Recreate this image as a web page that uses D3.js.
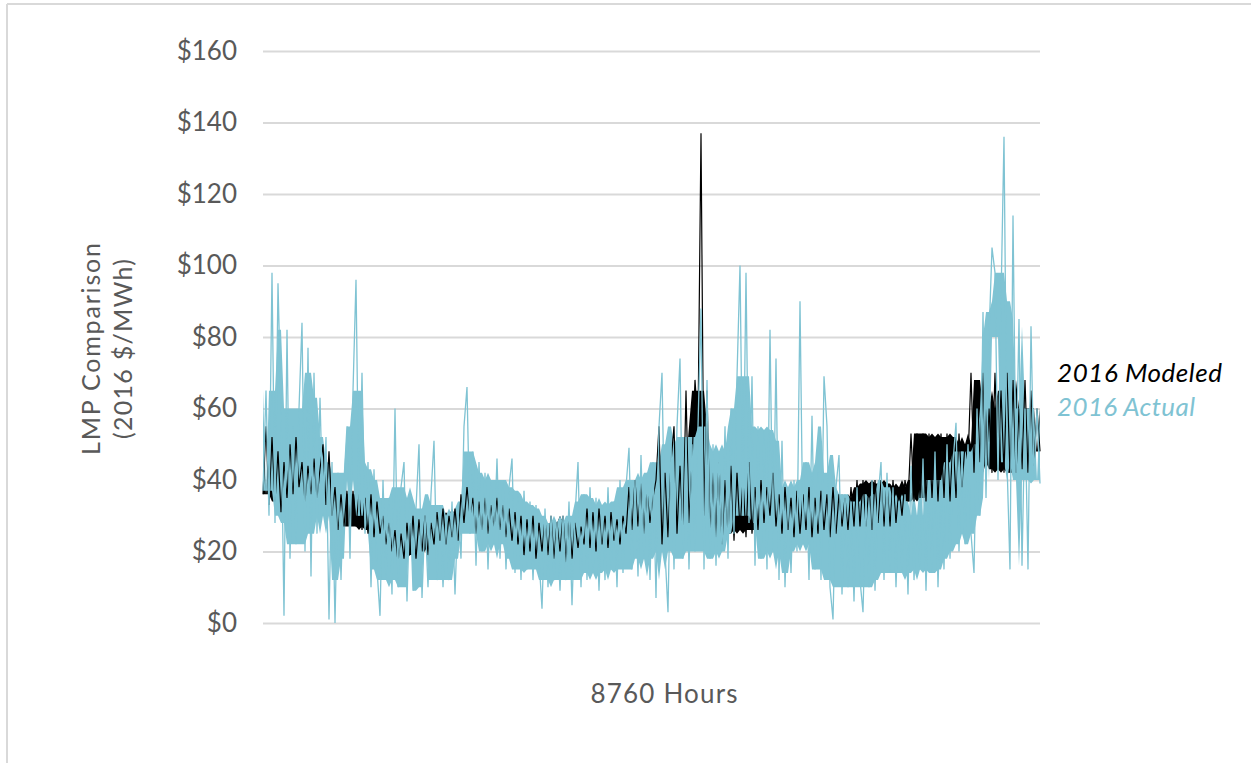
<!DOCTYPE html>
<html>
<head>
<meta charset="utf-8">
<script src="https://cdn.jsdelivr.net/npm/d3@7/dist/d3.min.js"></script>
<style>
  html, body { margin: 0; padding: 0; background: #ffffff; }
  svg { display: block; }
  text { font-family: "Lato", "Open Sans", sans-serif; }
</style>
</head>
<body>
<svg id="chart" width="1251" height="763"></svg>
<script>
const totalHours = 8760;
const yTicks = [0, 20, 40, 60, 80, 100, 120, 140, 160];
const seriesNames = ["2016 Modeled", "2016 Actual"];

// 2016 Actual LMP ($/MWh)
const actual = [
  37, 65, 30, 98, 28, 95, 60, 2, 82, 18,
  55, 22, 60, 84, 20, 77, 13, 70, 25, 63,
  30, 52, 1, 45, 0, 42, 12, 40, 55, 18,
  65, 96, 30, 70, 25, 45, 10, 43, 15, 2,
  40, 12, 35, 8, 60, 10, 38, 45, 6, 35,
  9, 32, 50, 7, 30, 10, 36, 51, 12, 33,
  10, 30, 12, 34, 8, 32, 18, 55, 66, 25,
  48, 16, 45, 20, 42, 15, 40, 22, 46, 18,
  40, 15, 38, 46, 14, 36, 12, 37, 15, 34,
  12, 33, 18, 4, 32, 10, 30, 12, 28, 9,
  30, 12, 34, 5, 30, 45, 10, 36, 12, 38,
  14, 35, 9, 33, 12, 38, 15, 34, 10, 40,
  14, 38, 49, 15, 40, 13, 47, 18, 42, 12,
  45, 7, 55, 70, 20, 3, 50, 15, 55, 74,
  18, 52, 15, 50, 20, 55, 88, 15, 68, 18,
  50, 16, 48, 20, 55, 18, 60, 25, 69, 100,
  30, 98, 28, 69, 16, 55, 18, 54, 15, 82,
  20, 74, 12, 51, 10, 38, 14, 40, 20, 90,
  22, 45, 12, 58, 15, 42, 12, 69, 55, 10,
  1, 38, 47, 8, 36, 10, 34, 6, 38, 12,
  3, 36, 10, 40, 9, 35, 45, 12, 42, 14,
  38, 10, 34, 14, 36, 8, 44, 12, 30, 15,
  46, 9, 40, 14, 48, 10, 40, 15, 50, 18,
  45, 56, 20, 48, 22, 50, 25, 14, 60, 30,
  87, 35, 80, 105, 98, 40, 90, 136, 45, 15,
  114, 40, 85, 16, 60, 15, 83, 40, 60, 39
];

// 2016 Modeled LMP ($/MWh)
const modeled = [
  36, 55, 33, 52, 34, 48, 31, 45, 35, 50,
  36, 52, 38, 45, 34, 44, 36, 46, 35, 43,
  50, 33, 48, 30, 38, 26, 36, 27, 37, 26,
  37, 27, 36, 26, 35, 25, 36, 24, 34, 25,
  30, 22, 28, 20, 26, 17, 25, 18, 28, 19,
  30, 18, 29, 20, 30, 19, 28, 22, 31, 23,
  32, 22, 30, 24, 32, 23, 36, 28, 38, 30,
  35, 25, 34, 26, 35, 25, 33, 27, 35, 26,
  33, 24, 32, 23, 31, 22, 30, 19, 29, 20,
  30, 18, 28, 20, 29, 19, 30, 18, 28, 20,
  30, 17, 30, 18, 28, 21, 27, 22, 32, 21,
  31, 20, 32, 22, 30, 21, 31, 23, 29, 22,
  30, 25, 38, 26, 40, 27, 39, 25, 37, 28,
  35, 40, 55, 22, 42, 24, 45, 55, 25, 44,
  26, 65, 28, 45, 68, 55, 137, 30, 65, 25,
  42, 24, 45, 22, 40, 25, 44, 23, 42, 26,
  40, 24, 45, 25, 38, 26, 40, 28, 38, 30,
  42, 27, 36, 25, 38, 26, 35, 24, 37, 25,
  36, 26, 38, 24, 35, 25, 37, 26, 36, 24,
  38, 25, 36, 27, 35, 26, 38, 27, 40, 27,
  40, 27, 39, 26, 40, 28, 40, 27, 39, 27,
  40, 28, 38, 30, 40, 34, 53, 34, 53, 35,
  53, 34, 53, 35, 52, 34, 53, 35, 53, 34,
  52, 35, 53, 38, 50, 45, 70, 42, 68, 45,
  70, 42, 60, 42, 70, 43, 65, 42, 70, 42,
  68, 42, 60, 43, 68, 42, 65, 44, 60, 48
];

// ---- Layout ----
const svg = d3.select("#chart");
const W = 1251, H = 763;
const plot = { left: 263, right: 1040, top: 51, bottom: 623 };
const blue = "#7fc3d3";
const gridColor = "#d9d9d9";
const textColor = "#595959";

// frame
svg.append("line").attr("x1", 7).attr("x2", W).attr("y1", 4).attr("y2", 4)
  .attr("stroke", gridColor).attr("stroke-width", 2);
svg.append("line").attr("x1", 7).attr("x2", 7).attr("y1", 4).attr("y2", H)
  .attr("stroke", gridColor).attr("stroke-width", 2);

const hourOf = (i, n) => i * totalHours / (n - 1);

const x = d3.scaleLinear().domain([0, totalHours]).range([plot.left, plot.right]);
const y = d3.scaleLinear().domain([0, 160]).range([plot.bottom, plot.top]);

// gridlines + y tick labels via axis
const yAxis = d3.axisLeft(y)
  .tickValues(yTicks)
  .tickSize(-(plot.right - plot.left))
  .tickPadding(26)
  .tickFormat(d => "$" + d);

const gAxis = svg.append("g")
  .attr("transform", `translate(${plot.left},0)`)
  .call(yAxis);
gAxis.select(".domain").remove();
gAxis.selectAll(".tick line").attr("stroke", gridColor).attr("stroke-width", 2);
gAxis.selectAll(".tick text")
  .attr("fill", textColor)
  .style("font-size", "26px")
  .style("font-family", "Lato, 'Open Sans', sans-serif");

// dense hourly band: inner envelope of neighbouring samples (drops the two most extreme on each side)
function envelope(vals, half, rank) {
  return vals.map((v, i) => {
    const w = vals.slice(Math.max(0, i - half), Math.min(vals.length, i + half + 1)).sort((a, b) => a - b);
    const r = Math.min(rank, Math.floor((w.length - 1) / 2));
    return { i, n: vals.length, lo: w[r], hi: w[w.length - 1 - r] };
  });
}
const area = d3.area()
  .x(d => x(hourOf(d.i, d.n)))
  .y0(d => y(d.lo))
  .y1(d => y(d.hi));

const line = d3.line()
  .x((d, i, arr) => x(hourOf(i, arr.length)))
  .y(d => y(d));

svg.append("path")
  .datum(envelope(modeled, 3, 2))
  .attr("d", area)
  .attr("fill", "#000000");

svg.append("path")
  .datum(envelope(actual, 3, 2))
  .attr("d", area)
  .attr("fill", blue);

svg.append("path")
  .datum(modeled)
  .attr("d", line)
  .attr("fill", "none")
  .attr("stroke", "#000000")
  .attr("stroke-width", 1.2)
  .attr("stroke-linejoin", "bevel");

svg.append("path")
  .datum(actual)
  .attr("d", line)
  .attr("fill", "none")
  .attr("stroke", blue)
  .attr("stroke-width", 1.3)
  .attr("stroke-linejoin", "bevel");

// axis titles
const yTitle = svg.append("text")
  .attr("transform", `translate(100,349) rotate(-90)`)
  .attr("text-anchor", "middle")
  .attr("fill", textColor)
  .style("font-size", "25px");
yTitle.append("tspan").attr("x", 0).attr("y", 0)
  .attr("textLength", 212).attr("lengthAdjust", "spacing").text("LMP Comparison");
yTitle.append("tspan").attr("x", 0).attr("y", 32)
  .attr("textLength", 180).attr("lengthAdjust", "spacing").text("(2016 $/MWh)");

svg.append("text")
  .attr("x", 664).attr("y", 703)
  .attr("text-anchor", "middle")
  .attr("fill", textColor)
  .style("font-size", "26px")
  .attr("textLength", 147).attr("lengthAdjust", "spacing")
  .text("8760 Hours");

// legend labels
svg.append("text")
  .attr("x", 1057).attr("y", 382)
  .attr("fill", "#000000")
  .style("font-size", "26px")
  .style("font-style", "italic")
  .attr("textLength", 165).attr("lengthAdjust", "spacing")
  .text(seriesNames[0]);
svg.append("text")
  .attr("x", 1057).attr("y", 416)
  .attr("fill", blue)
  .style("font-size", "26px")
  .style("font-style", "italic")
  .attr("textLength", 138).attr("lengthAdjust", "spacing")
  .text(seriesNames[1]);
</script>
</body>
</html>
